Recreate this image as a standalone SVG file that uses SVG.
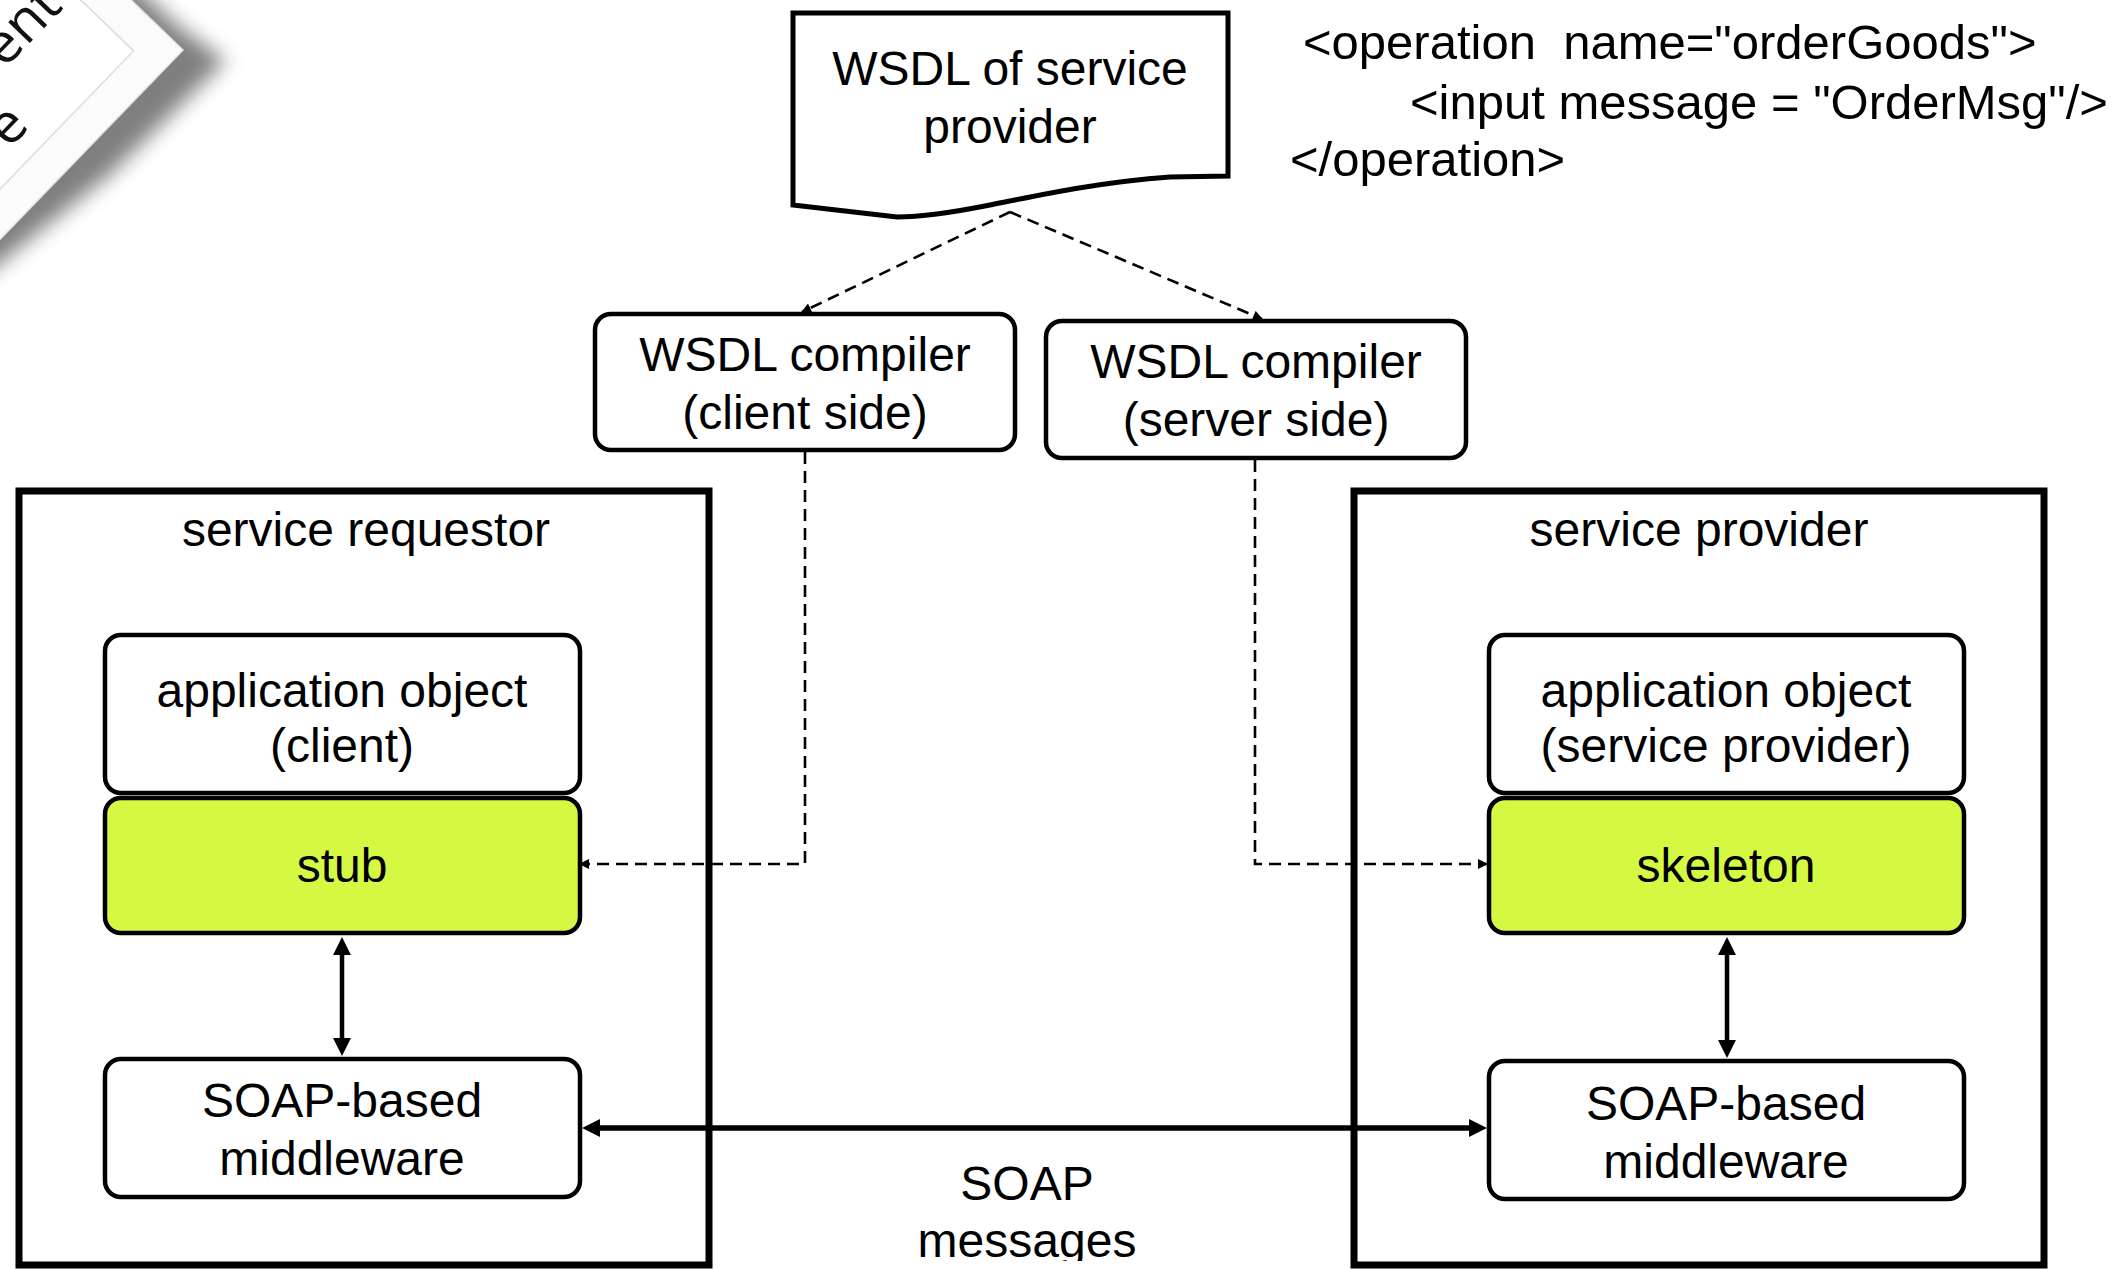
<svg xmlns="http://www.w3.org/2000/svg" width="2124" height="1270" viewBox="0 0 2124 1270">
  <style>
    .t { font-family: "Liberation Sans", Arial, Helvetica, sans-serif; font-size: 48px; fill: #000; text-anchor: middle; }
    .code { font-family: "Liberation Sans", Arial, Helvetica, sans-serif; font-size: 49px; fill: #000; text-anchor: start; }
    .box { fill: #fff; stroke: #000; stroke-width: 4.5; }
    .green { fill: #d5f943; }
    .container { fill: none; stroke: #000; stroke-width: 7; }
    .doc { fill: #fff; stroke: #000; stroke-width: 5; stroke-linejoin: miter; }
    .dash { fill: none; stroke: #000; stroke-width: 2.6; stroke-dasharray: 12 7; }
    .solid { fill: none; stroke: #000; stroke-width: 4.5; }
    .thick { fill: none; stroke: #000; stroke-width: 5.5; }
    .pagetext { font-family: "Open Sans", "Noto Sans", sans-serif; font-size: 56px; fill: #111; text-anchor: end; }
  </style>
  <defs>
    <marker id="headSmall" viewBox="0 0 10 10" refX="9" refY="5" markerWidth="12" markerHeight="10" markerUnits="userSpaceOnUse" orient="auto-start-reverse">
      <path d="M0,0 L10,5 L0,10 Z" fill="#000"/>
    </marker>
    <marker id="headBig" viewBox="0 0 10 10" refX="5.6" refY="5" markerWidth="18" markerHeight="18" markerUnits="userSpaceOnUse" orient="auto-start-reverse">
      <path d="M0,0 L10,5 L0,10 Z" fill="#000"/>
    </marker>
    <filter id="pageShadow" x="-50%" y="-50%" width="200%" height="200%">
      <feGaussianBlur stdDeviation="10"/>
    </filter>
    <clipPath id="bottomClip">
      <rect x="0" y="0" width="2124" height="1261"/>
    </clipPath>
  </defs>

  <rect x="0" y="0" width="2124" height="1270" fill="#fff"/>

  <!-- corner of a tilted page in the top-left -->
  <g id="tilted-page" transform="translate(183,50) rotate(-46)">
    <path d="M-700,-700 L6,-700 L14,-20 L22,38 L-140,34 L-330,10 L-700,-6 Z" fill="#4a4a4a" opacity="0.7" filter="url(#pageShadow)"/>
    <rect x="-700" y="-700" width="700" height="700" fill="#fbfbfb" stroke="#e2e2e2" stroke-width="1.5"/>
    <rect x="-700" y="-700" width="665" height="665" fill="#fff" stroke="#dcdcdc" stroke-width="1.5"/>
    <text class="pagetext" x="-52" y="-115">ent</text>
    <text class="pagetext" x="-161" y="-56">e</text>
  </g>

  <!-- WSDL snippet -->
  <g id="wsdl-snippet">
    <text class="code" x="1303" y="59" xml:space="preserve">&lt;operation  name="orderGoods"&gt;</text>
    <text class="code" x="1410" y="119">&lt;input message = "OrderMsg"/&gt;</text>
    <text class="code" x="1290" y="176">&lt;/operation&gt;</text>
  </g>

  <!-- container boxes -->
  <g id="service-requestor">
    <rect class="container" x="19" y="491" width="690" height="774"/>
    <text class="t" x="366" y="546">service requestor</text>
  </g>
  <g id="service-provider">
    <rect class="container" x="1354" y="491" width="690" height="774"/>
    <text class="t" x="1699" y="546">service provider</text>
  </g>

  <!-- connectors -->
  <g id="connectors">
    <path class="dash" d="M1010,212 L802,312" marker-end="url(#headSmall)"/>
    <path class="dash" d="M1010,212 L1262,319" marker-end="url(#headSmall)"/>
    <path class="dash" d="M805,452 V864 H580" marker-end="url(#headSmall)"/>
    <path class="dash" d="M1255,460 V864 H1487" marker-end="url(#headSmall)"/>
    <path class="solid" d="M342,945 V1048" marker-start="url(#headBig)" marker-end="url(#headBig)"/>
    <path class="solid" d="M1727,945 V1050" marker-start="url(#headBig)" marker-end="url(#headBig)"/>
    <path class="thick" d="M590,1128 H1479" marker-start="url(#headBig)" marker-end="url(#headBig)"/>
  </g>

  <!-- WSDL document -->
  <g id="wsdl-document">
    <path class="doc" d="M793,13 L1228,13 L1228,176 L1170,177 C1100,182 1040,195 990,205 C955,212 925,217 897,217 L793,205 Z"/>
    <text class="t" x="1010" y="85">WSDL of service</text>
    <text class="t" x="1010" y="143">provider</text>
  </g>

  <g id="compiler-client">
    <rect class="box" x="595" y="314" width="420" height="136" rx="16"/>
    <text class="t" x="805" y="371">WSDL compiler</text>
    <text class="t" x="805" y="429">(client side)</text>
  </g>
  <g id="compiler-server">
    <rect class="box" x="1046" y="321" width="420" height="137" rx="16"/>
    <text class="t" x="1256" y="378">WSDL compiler</text>
    <text class="t" x="1256" y="436">(server side)</text>
  </g>

  <g id="app-client">
    <rect class="box" x="105" y="635" width="475" height="158" rx="16"/>
    <text class="t" x="342" y="707">application object</text>
    <text class="t" x="342" y="762">(client)</text>
  </g>
  <g id="stub">
    <rect class="box green" x="105" y="798" width="475" height="135" rx="16"/>
    <text class="t" x="342" y="882">stub</text>
  </g>
  <g id="middleware-client">
    <rect class="box" x="105" y="1059" width="475" height="138" rx="16"/>
    <text class="t" x="342" y="1117">SOAP-based</text>
    <text class="t" x="342" y="1175">middleware</text>
  </g>

  <g id="app-provider">
    <rect class="box" x="1489" y="635" width="475" height="158" rx="16"/>
    <text class="t" x="1726" y="707">application object</text>
    <text class="t" x="1726" y="762">(service provider)</text>
  </g>
  <g id="skeleton">
    <rect class="box green" x="1489" y="798" width="475" height="135" rx="16"/>
    <text class="t" x="1726" y="882">skeleton</text>
  </g>
  <g id="middleware-provider">
    <rect class="box" x="1489" y="1061" width="475" height="138" rx="16"/>
    <text class="t" x="1726" y="1120">SOAP-based</text>
    <text class="t" x="1726" y="1178">middleware</text>
  </g>

  <g id="soap-messages-label" clip-path="url(#bottomClip)">
    <text class="t" x="1027" y="1200">SOAP</text>
    <text class="t" x="1027" y="1257">messages</text>
  </g>
</svg>
